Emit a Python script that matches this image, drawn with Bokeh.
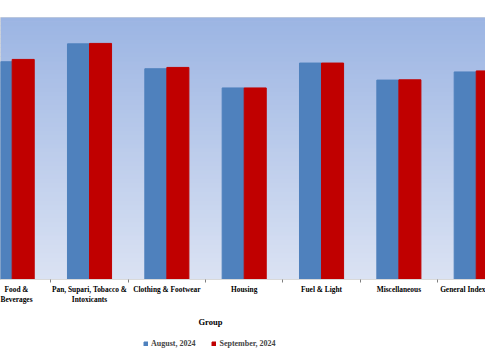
import numpy as np
from bokeh.plotting import figure
from bokeh.layouts import column
from bokeh.models import Range1d, FixedTicker, BoxAnnotation, Title, Legend, LegendItem
from bokeh.embed import file_html
from bokeh.resources import INLINE

groups = ["Food &\nBeverages", "Pan, Supari, Tobacco &\nIntoxicants", "Clothing & Footwear",
          "Housing", "Fuel & Light", "Miscellaneous", "General Index"]
aug_2024 = [149.6, 161.9, 144.8, 131.6, 148.7, 137.0, 142.6]
sep_2024 = [151.2, 162.2, 145.7, 131.6, 148.7, 137.2, 143.3]
series_names = ["August, 2024", "September, 2024"]
colors = ["#4F81BD", "#C00000"]

xs = np.arange(len(groups))
bw = 0.285

p = figure(width=485, height=334, output_backend="svg", toolbar_location=None,
           x_range=Range1d(-0.151, 6.12), y_range=Range1d(0, 180),
           min_border_left=0, min_border_right=0, min_border_top=17, min_border_bottom=54,
           y_axis_location=None)
p.outline_line_color = "#D9D9D9"
p.grid.visible = False
p.background_fill_color = "#C5D4EE"

# gradient background (decoration)
top_c = np.array([156, 181, 227])
bot_c = np.array([218, 226, 243])
n = 60
for i in range(n):
    t = i / (n - 1)
    c = bot_c + (top_c - bot_c) * t
    col = "#%02x%02x%02x" % tuple(int(round(v)) for v in c)
    p.add_layout(BoxAnnotation(bottom=180 * i / n, top=180 * (i + 1) / n + 0.5,
                               fill_color=col, fill_alpha=1, line_color=None, level="underlay"))

p.vbar(x=xs - bw / 2, top=aug_2024, width=bw, color=colors[0])
p.vbar(x=xs + bw / 2, top=sep_2024, width=bw, color=colors[1])

ax = p.xaxis[0]
ax.ticker = FixedTicker(ticks=list(xs), minor_ticks=[i + 0.5 for i in range(-1, 7)])
ax.major_label_overrides = {int(i): g for i, g in zip(xs, groups)}
ax.major_tick_out = 0
ax.major_tick_in = 0
ax.minor_tick_out = 3
ax.minor_tick_in = 0
ax.minor_tick_line_color = "#7F7F7F"
ax.axis_line_color = "#D9D9D9"
ax.major_label_standoff = 2
ax.major_label_text_font = "Liberation Serif"
ax.major_label_text_font_style = "bold"
ax.major_label_text_font_size = "7.4px"
ax.major_label_text_color = "#000000"

p.add_layout(Title(text="Group", align="left", offset=198, text_font="Liberation Serif",
                   text_font_style="bold", text_font_size="8.5px", text_color="#000000",
                   standoff=15), "below")

# legend strip below the chart
q = figure(width=485, height=20, output_backend="svg", toolbar_location=None,
           x_range=Range1d(-0.151, 6.12), y_range=Range1d(1000, 1001),
           min_border_left=0, min_border_right=0, min_border_top=0, min_border_bottom=0,
           x_axis_location=None, y_axis_location=None)
q.outline_line_color = None
q.grid.visible = False
l1 = q.vbar(x=xs - bw / 2, top=aug_2024, width=bw, color=colors[0])
l2 = q.vbar(x=xs + bw / 2, top=sep_2024, width=bw, color=colors[1])

lg = Legend(items=[LegendItem(label=series_names[0], renderers=[l1]),
                   LegendItem(label=series_names[1], renderers=[l2])],
            orientation="horizontal", location=(143, 6))
lg.glyph_width = 5
lg.glyph_height = 5
lg.label_standoff = 3
lg.spacing = 16
lg.padding = 2
lg.margin = 0
lg.border_line_color = None
lg.background_fill_alpha = 0
lg.label_text_font = "Liberation Serif"
lg.label_text_font_style = "bold"
lg.label_text_font_size = "8px"
lg.label_height = 8
q.add_layout(lg)

layout = column(p, q, spacing=0)
open("out.html", "w").write(file_html(layout, INLINE))
